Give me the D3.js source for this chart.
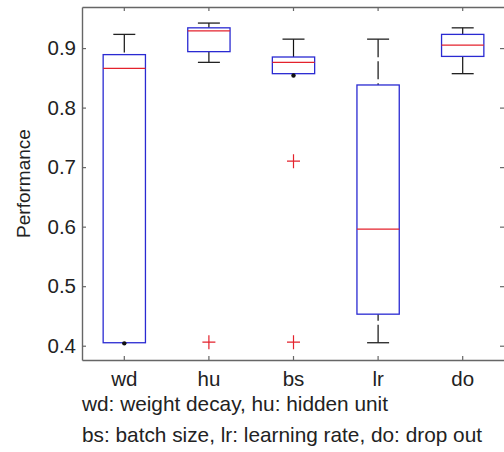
<!DOCTYPE html>
<html>
<head>
<meta charset="utf-8">
<script src="https://cdn.jsdelivr.net/npm/d3@7"></script>
<style>
  body { margin: 0; background: #fff; }
  svg { display: block; font-family: "Liberation Sans", Arial, sans-serif; }
</style>
</head>
<body>
<svg id="chart" width="504" height="452"></svg>
<script>
// hyper-parameter sensitivity boxplot
var categories = ["wd", "hu", "bs", "lr", "do"];
var upperWhisker = [0.923, 0.942, 0.915, 0.915, 0.934];
var q3 = [0.889, 0.934, 0.885, 0.838, 0.923];
var medians = [0.866, 0.929, 0.876, 0.596, 0.905];
var q1 = [0.405, 0.894, 0.857, 0.453, 0.886];
var lowerWhisker = [0.404, 0.876, 0.854, 0.405, 0.857];
var outliers = [[], [0.406], [0.710, 0.406], [], []];
var yTicks = [0.4, 0.5, 0.6, 0.7, 0.8, 0.9];
var yLabel = "Performance";
var captionLines = ["wd: weight decay, hu: hidden unit",
                    "bs: batch size, lr: learning rate, do: drop out"];

var plotLeft = 82, plotRight = 505, plotTop = 7, plotBottom = 360;

var svg = d3.select("#chart");

var xScale = d3.scaleBand()
    .domain(categories)
    .range([plotLeft, plotRight]);

var yScale = d3.scaleLinear()
    .domain([0.376, 0.969])
    .range([plotBottom, plotTop]);

var boxes = categories.map(function(c, i) {
    return {
        name: c,
        hi: upperWhisker[i],
        q3: q3[i],
        med: medians[i],
        q1: q1[i],
        lo: lowerWhisker[i],
        out: outliers[i]
    };
});

var axisColor = "#666";
var textColor = "#222";

// axes (ticks point inward, like matlab)
var xAxis = d3.axisBottom(xScale).tickSizeInner(-4).tickSizeOuter(0).tickPadding(11);
var yAxis = d3.axisLeft(yScale).tickValues(yTicks).tickFormat(d3.format(".1f"))
    .tickSizeInner(-4).tickSizeOuter(0).tickPadding(6);

svg.append("g")
    .attr("transform", "translate(0," + plotBottom + ")")
    .call(xAxis);

svg.append("g")
    .attr("transform", "translate(0," + plotTop + ")")
    .call(d3.axisTop(xScale).tickSizeInner(-4).tickSizeOuter(0).tickFormat(""));

svg.append("g")
    .attr("transform", "translate(" + plotLeft + ",0)")
    .call(yAxis);

svg.append("g")
    .attr("transform", "translate(" + plotRight + ",0)")
    .call(d3.axisRight(yScale).tickValues(yTicks).tickSizeInner(-5).tickSizeOuter(0).tickFormat(""));

svg.selectAll(".domain").attr("stroke", axisColor).attr("stroke-width", 1.4);
svg.selectAll(".tick line").attr("stroke", axisColor).attr("stroke-width", 1.2);
svg.selectAll(".tick text")
    .attr("fill", textColor)
    .style("font-size", "20.5px")
    .style("font-family", "'Liberation Sans', Arial, sans-serif");

// y label
svg.append("text")
    .attr("transform", "translate(30," + ((plotTop + plotBottom) / 2) + ") rotate(-90)")
    .attr("text-anchor", "middle")
    .attr("fill", textColor)
    .style("font-size", "19px")
    .text(yLabel);

// boxes
var bw = xScale.bandwidth() * 0.5;
var capW = bw * 0.52;

var g = svg.append("g").selectAll("g")
    .data(boxes)
    .enter().append("g")
    .attr("transform", function(d) { return "translate(" + (xScale(d.name) + xScale.bandwidth() / 2) + ",0)"; });

// whiskers (dashed, drawn from cap toward box)
g.filter(function(d) { return d.hi - d.q3 > 0.004; })
    .append("line")
    .attr("x1", 0).attr("x2", 0)
    .attr("y1", function(d) { return yScale(d.hi); })
    .attr("y2", function(d) { return yScale(d.q3); })
    .attr("stroke", "#111").attr("stroke-width", 1.2)
    .attr("stroke-dasharray", "18,4");

g.filter(function(d) { return d.q1 - d.lo > 0.004; })
    .append("line")
    .attr("x1", 0).attr("x2", 0)
    .attr("y1", function(d) { return yScale(d.lo); })
    .attr("y2", function(d) { return yScale(d.q1); })
    .attr("stroke", "#111").attr("stroke-width", 1.2)
    .attr("stroke-dasharray", "18,4");

g.filter(function(d) { return d.hi - d.q3 > 0.004; })
    .append("line")
    .attr("x1", -capW / 2).attr("x2", capW / 2)
    .attr("y1", function(d) { return yScale(d.hi); })
    .attr("y2", function(d) { return yScale(d.hi); })
    .attr("stroke", "#222").attr("stroke-width", 1.3);

g.filter(function(d) { return d.q1 - d.lo > 0.004; })
    .append("line")
    .attr("x1", -capW / 2).attr("x2", capW / 2)
    .attr("y1", function(d) { return yScale(d.lo); })
    .attr("y2", function(d) { return yScale(d.lo); })
    .attr("stroke", "#222").attr("stroke-width", 1.3);

g.append("rect")
    .attr("x", -bw / 2)
    .attr("width", bw)
    .attr("y", function(d) { return yScale(d.q3); })
    .attr("height", function(d) { return yScale(d.q1) - yScale(d.q3); })
    .attr("fill", "none")
    .attr("stroke", "#2a2ad2")
    .attr("stroke-width", 1.3);

g.append("line")
    .attr("x1", -bw / 2).attr("x2", bw / 2)
    .attr("y1", function(d) { return yScale(d.med); })
    .attr("y2", function(d) { return yScale(d.med); })
    .attr("stroke", "#e4222c").attr("stroke-width", 1.3);

// whisker that collapses onto the box edge shows as a dot
g.filter(function(d) { return d.q1 - d.lo <= 0.004; })
    .append("circle")
    .attr("cx", 0)
    .attr("cy", function(d) { return yScale(d.lo); })
    .attr("r", 2.2)
    .attr("fill", "#111");

// outliers as red plus marks
g.selectAll("path.out")
    .data(function(d) { return d.out; })
    .enter().append("path")
    .attr("class", "out")
    .attr("d", function(v) {
        var y = yScale(v);
        return "M-6.5," + y + "H6.5M0," + (y - 7) + "V" + (y + 7);
    })
    .attr("stroke", "#e4222c")
    .attr("stroke-width", 1.2)
    .attr("fill", "none");

// caption below the chart
svg.selectAll("text.caption")
    .data(captionLines)
    .enter().append("text")
    .attr("class", "caption")
    .attr("x", plotLeft)
    .attr("y", function(d, i) { return 411 + i * 31; })
    .attr("fill", textColor)
    .style("font-size", "20.8px")
    .text(function(d) { return d; });
</script>
</body>
</html>
